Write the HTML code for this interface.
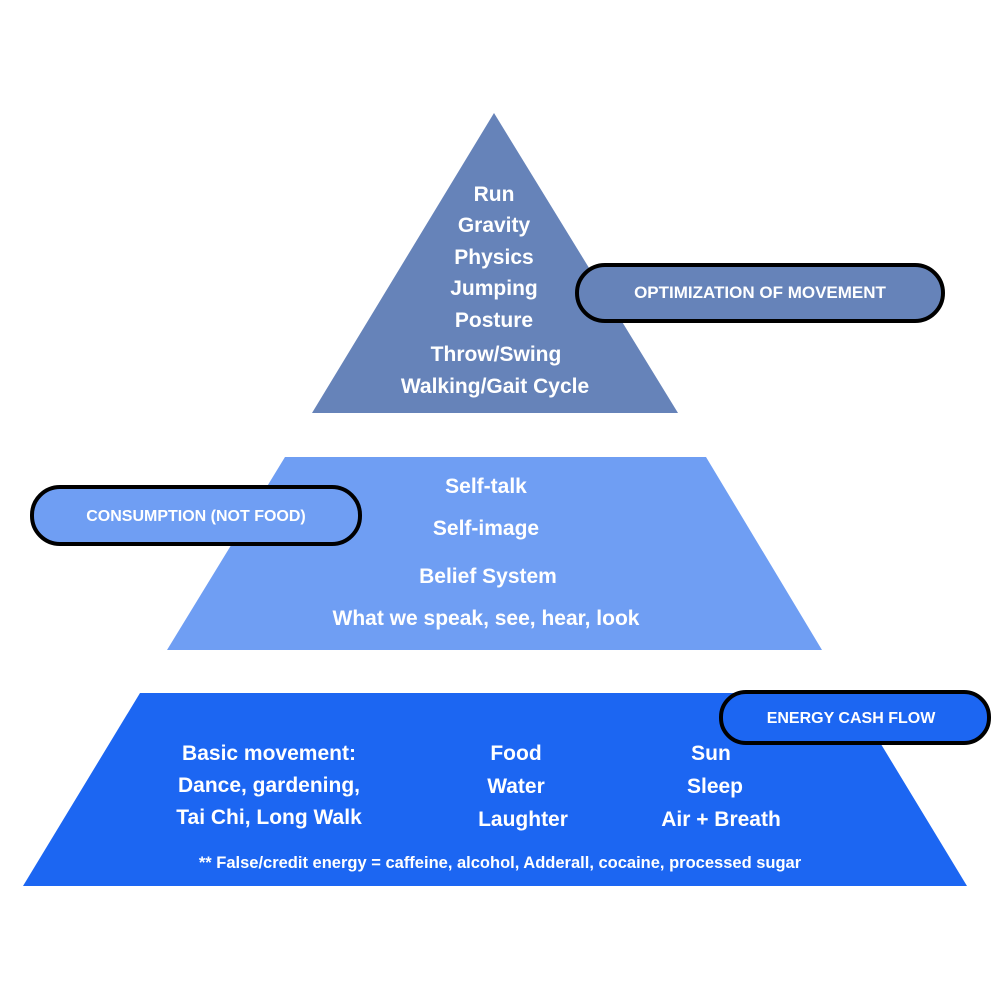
<!DOCTYPE html>
<html><head><style>
body{margin:0;width:1000px;height:1000px;background:#fff;overflow:hidden}
svg text{font-family:"Liberation Sans",sans-serif;font-weight:bold;fill:#fff}
</style></head><body>
<svg width="1000" height="1000" viewBox="0 0 1000 1000">
<polygon points="494,113 678,413 312,413" fill="#6683b9"/>
<polygon points="285,457 706,457 822,650 167,650" fill="#6f9ef3"/>
<polygon points="140,693 850,693 967,886 23,886" fill="#1c66f2"/>
<g font-size="21" text-anchor="middle">
<text x="494" y="201">Run</text>
<text x="494" y="232">Gravity</text>
<text x="494" y="264">Physics</text>
<text x="494" y="295">Jumping</text>
<text x="494" y="327">Posture</text>
<text x="496" y="361">Throw/Swing</text>
<text x="495" y="393">Walking/Gait Cycle</text>
<text x="486" y="493">Self-talk</text>
<text x="486" y="535">Self-image</text>
<text x="488" y="583">Belief System</text>
<text x="486" y="625">What we speak, see, hear, look</text>
<text x="269" y="760">Basic movement:</text>
<text x="269" y="792">Dance, gardening,</text>
<text x="269" y="824">Tai Chi, Long Walk</text>
<text x="516" y="760">Food</text>
<text x="516" y="793">Water</text>
<text x="523" y="826">Laughter</text>
<text x="711" y="760">Sun</text>
<text x="715" y="793">Sleep</text>
<text x="721" y="826">Air + Breath</text>
</g>
<text x="500" y="868" font-size="16.5" text-anchor="middle">** False/credit energy = caffeine, alcohol, Adderall, cocaine, processed sugar</text>
<rect x="577" y="265" width="366" height="56" rx="28" fill="#6683b9" stroke="#000" stroke-width="4"/>
<text x="760" y="298" font-size="17" text-anchor="middle">OPTIMIZATION OF MOVEMENT</text>
<rect x="32" y="487" width="328" height="57" rx="28" fill="#6f9ef3" stroke="#000" stroke-width="4"/>
<text x="196" y="521" font-size="16" text-anchor="middle">CONSUMPTION (NOT FOOD)</text>
<rect x="721" y="692" width="268" height="51" rx="25" fill="#1c66f2" stroke="#000" stroke-width="4"/>
<text x="851" y="723" font-size="16" text-anchor="middle">ENERGY CASH FLOW</text>
</svg>
</body></html>
